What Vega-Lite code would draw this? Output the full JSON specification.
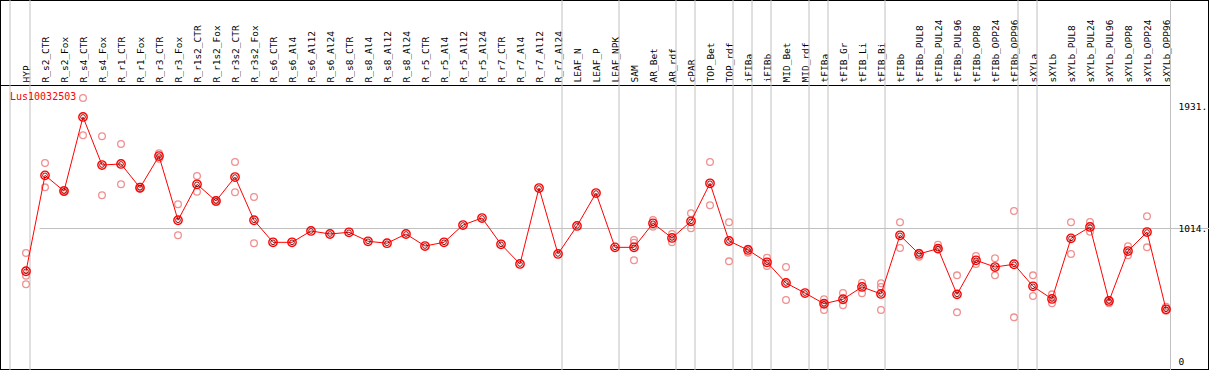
{
  "$schema": "https://vega.github.io/schema/vega-lite/v6.json",
  "width": 1209,
  "height": 370,
  "autosize": "none",
  "padding": 0,
  "background": "white",
  "config": {
    "view": {"stroke": "black", "strokeWidth": 2},
    "font": "DejaVu Sans Mono"
  },
  "datasets": {
    "main": [
      {"sample": "HYP", "gene": "Lus10032503", "value": 687},
      {"sample": "R_s2_CTR", "gene": "Lus10032503", "value": 1413},
      {"sample": "R_s2_Fox", "gene": "Lus10032503", "value": 1294},
      {"sample": "R_s4_CTR", "gene": "Lus10032503", "value": 1855},
      {"sample": "R_s4_Fox", "gene": "Lus10032503", "value": 1491},
      {"sample": "R_r1_CTR", "gene": "Lus10032503", "value": 1499},
      {"sample": "R_r1_Fox", "gene": "Lus10032503", "value": 1319},
      {"sample": "R_r3_CTR", "gene": "Lus10032503", "value": 1559},
      {"sample": "R_r3_Fox", "gene": "Lus10032503", "value": 1073},
      {"sample": "R_r1s2_CTR", "gene": "Lus10032503", "value": 1345},
      {"sample": "R_r1s2_Fox", "gene": "Lus10032503", "value": 1219},
      {"sample": "R_r3s2_CTR", "gene": "Lus10032503", "value": 1400},
      {"sample": "R_r3s2_Fox", "gene": "Lus10032503", "value": 1073},
      {"sample": "R_s6_CTR", "gene": "Lus10032503", "value": 906},
      {"sample": "R_s6_Al4", "gene": "Lus10032503", "value": 906},
      {"sample": "R_s6_Al12", "gene": "Lus10032503", "value": 992},
      {"sample": "R_s6_Al24", "gene": "Lus10032503", "value": 969},
      {"sample": "R_s8_CTR", "gene": "Lus10032503", "value": 982},
      {"sample": "R_s8_Al4", "gene": "Lus10032503", "value": 914},
      {"sample": "R_s8_Al12", "gene": "Lus10032503", "value": 899},
      {"sample": "R_s8_Al24", "gene": "Lus10032503", "value": 969},
      {"sample": "R_r5_CTR", "gene": "Lus10032503", "value": 878},
      {"sample": "R_r5_Al4", "gene": "Lus10032503", "value": 906},
      {"sample": "R_r5_Al12", "gene": "Lus10032503", "value": 1037},
      {"sample": "R_r5_Al24", "gene": "Lus10032503", "value": 1090},
      {"sample": "R_r7_CTR", "gene": "Lus10032503", "value": 891},
      {"sample": "R_r7_Al4", "gene": "Lus10032503", "value": 742},
      {"sample": "R_r7_Al12", "gene": "Lus10032503", "value": 1317},
      {"sample": "R_r7_Al24", "gene": "Lus10032503", "value": 818},
      {"sample": "LEAF_N", "gene": "Lus10032503", "value": 1030},
      {"sample": "LEAF_P", "gene": "Lus10032503", "value": 1279},
      {"sample": "LEAF_NPK", "gene": "Lus10032503", "value": 868},
      {"sample": "SAM", "gene": "Lus10032503", "value": 868},
      {"sample": "AR_Bet", "gene": "Lus10032503", "value": 1050},
      {"sample": "AR_rdf", "gene": "Lus10032503", "value": 939},
      {"sample": "cPAR", "gene": "Lus10032503", "value": 1065},
      {"sample": "TOP_Bet", "gene": "Lus10032503", "value": 1353},
      {"sample": "TOP_rdf", "gene": "Lus10032503", "value": 916},
      {"sample": "iFIBa", "gene": "Lus10032503", "value": 848},
      {"sample": "iFIBb", "gene": "Lus10032503", "value": 755},
      {"sample": "MID_Bet", "gene": "Lus10032503", "value": 598},
      {"sample": "MID_rdf", "gene": "Lus10032503", "value": 522},
      {"sample": "tFIBa", "gene": "Lus10032503", "value": 441},
      {"sample": "tFIB_Gr", "gene": "Lus10032503", "value": 475},
      {"sample": "tFIB_Li", "gene": "Lus10032503", "value": 568},
      {"sample": "tFIB_Bi", "gene": "Lus10032503", "value": 515},
      {"sample": "tFIBb", "gene": "Lus10032503", "value": 959},
      {"sample": "tFIBb_PUL8", "gene": "Lus10032503", "value": 818},
      {"sample": "tFIBb_PUL24", "gene": "Lus10032503", "value": 858},
      {"sample": "tFIBb_PUL96", "gene": "Lus10032503", "value": 512},
      {"sample": "tFIBb_OPP8", "gene": "Lus10032503", "value": 770},
      {"sample": "tFIBb_OPP24", "gene": "Lus10032503", "value": 719},
      {"sample": "tFIBb_OPP96", "gene": "Lus10032503", "value": 740},
      {"sample": "sXYLa", "gene": "Lus10032503", "value": 573},
      {"sample": "sXYLb", "gene": "Lus10032503", "value": 477},
      {"sample": "sXYLb_PUL8", "gene": "Lus10032503", "value": 936},
      {"sample": "sXYLb_PUL24", "gene": "Lus10032503", "value": 1022},
      {"sample": "sXYLb_PUL96", "gene": "Lus10032503", "value": 462},
      {"sample": "sXYLb_OPP8", "gene": "Lus10032503", "value": 840},
      {"sample": "sXYLb_OPP24", "gene": "Lus10032503", "value": 984},
      {"sample": "sXYLb_OPP96", "gene": "Lus10032503", "value": 399}
    ],
    "reps": [
      {"sample": "HYP", "value": 825}, {"sample": "HYP", "value": 653}, {"sample": "HYP", "value": 588},
      {"sample": "R_s2_CTR", "value": 1506}, {"sample": "R_s2_CTR", "value": 1322},
      {"sample": "R_s2_Fox", "value": 1302}, {"sample": "R_s2_Fox", "value": 1287},
      {"sample": "R_s4_CTR", "value": 1998}, {"sample": "R_s4_CTR", "value": 1716},
      {"sample": "R_s4_Fox", "value": 1709}, {"sample": "R_s4_Fox", "value": 1262},
      {"sample": "R_r1_CTR", "value": 1650}, {"sample": "R_r1_CTR", "value": 1345},
      {"sample": "R_r1_Fox", "value": 1327}, {"sample": "R_r1_Fox", "value": 1312},
      {"sample": "R_r3_CTR", "value": 1580}, {"sample": "R_r3_CTR", "value": 1539},
      {"sample": "R_r3_Fox", "value": 1194}, {"sample": "R_r3_Fox", "value": 959},
      {"sample": "R_r1s2_CTR", "value": 1408}, {"sample": "R_r1s2_CTR", "value": 1289},
      {"sample": "R_r1s2_Fox", "value": 1226}, {"sample": "R_r1s2_Fox", "value": 1211},
      {"sample": "R_r3s2_CTR", "value": 1514}, {"sample": "R_r3s2_CTR", "value": 1285},
      {"sample": "R_r3s2_Fox", "value": 1249}, {"sample": "R_r3s2_Fox", "value": 899},
      {"sample": "SAM", "value": 924}, {"sample": "SAM", "value": 903}, {"sample": "SAM", "value": 770},
      {"sample": "AR_Bet", "value": 1075}, {"sample": "AR_Bet", "value": 1024},
      {"sample": "AR_rdf", "value": 969}, {"sample": "AR_rdf", "value": 906},
      {"sample": "cPAR", "value": 1126}, {"sample": "cPAR", "value": 1012},
      {"sample": "TOP_Bet", "value": 1514}, {"sample": "TOP_Bet", "value": 1186},
      {"sample": "TOP_rdf", "value": 1058}, {"sample": "TOP_rdf", "value": 762},
      {"sample": "iFIBa", "value": 858}, {"sample": "iFIBa", "value": 827},
      {"sample": "iFIBb", "value": 790}, {"sample": "iFIBb", "value": 727},
      {"sample": "MID_Bet", "value": 719}, {"sample": "MID_Bet", "value": 469},
      {"sample": "tFIBa", "value": 475}, {"sample": "tFIBa", "value": 441}, {"sample": "tFIBa", "value": 394},
      {"sample": "tFIB_Gr", "value": 522}, {"sample": "tFIB_Gr", "value": 429},
      {"sample": "tFIB_Li", "value": 600}, {"sample": "tFIB_Li", "value": 520},
      {"sample": "tFIB_Bi", "value": 596}, {"sample": "tFIB_Bi", "value": 568}, {"sample": "tFIB_Bi", "value": 394},
      {"sample": "tFIBb", "value": 1058}, {"sample": "tFIBb", "value": 863},
      {"sample": "tFIBb_PUL8", "value": 827}, {"sample": "tFIBb_PUL8", "value": 797},
      {"sample": "tFIBb_PUL24", "value": 888}, {"sample": "tFIBb_PUL24", "value": 853},
      {"sample": "tFIBb_PUL96", "value": 656}, {"sample": "tFIBb_PUL96", "value": 376},
      {"sample": "tFIBb_OPP8", "value": 802}, {"sample": "tFIBb_OPP8", "value": 742},
      {"sample": "tFIBb_OPP24", "value": 785}, {"sample": "tFIBb_OPP24", "value": 656},
      {"sample": "tFIBb_OPP96", "value": 1143}, {"sample": "tFIBb_OPP96", "value": 338},
      {"sample": "sXYLa", "value": 656}, {"sample": "sXYLa", "value": 500},
      {"sample": "sXYLb", "value": 512}, {"sample": "sXYLb", "value": 444},
      {"sample": "sXYLb_PUL8", "value": 1058}, {"sample": "sXYLb_PUL8", "value": 818},
      {"sample": "sXYLb_PUL24", "value": 1060}, {"sample": "sXYLb_PUL24", "value": 986},
      {"sample": "sXYLb_PUL96", "value": 469}, {"sample": "sXYLb_PUL96", "value": 444},
      {"sample": "sXYLb_OPP8", "value": 876}, {"sample": "sXYLb_OPP8", "value": 808},
      {"sample": "sXYLb_OPP24", "value": 1103}, {"sample": "sXYLb_OPP24", "value": 868},
      {"sample": "sXYLb_OPP96", "value": 419}, {"sample": "sXYLb_OPP96", "value": 388}
    ],
    "groupEnds": [
      {"sample": "HYP"}, {"sample": "R_r7_Al24"}, {"sample": "LEAF_NPK"}, {"sample": "AR_rdf"},
      {"sample": "cPAR"}, {"sample": "TOP_rdf"}, {"sample": "iFIBa"}, {"sample": "iFIBb"},
      {"sample": "MID_rdf"}, {"sample": "tFIBa"}, {"sample": "tFIB_Bi"}, {"sample": "tFIBb_OPP96"},
      {"sample": "sXYLa"}
    ],
    "groupStarts": [
      {"sample": "HYP"}
    ]
  },
  "encoding": {
    "x": {
      "field": "sample",
      "type": "nominal",
      "scale": {
        "type": "point",
        "domain": ["HYP", "R_s2_CTR", "R_s2_Fox", "R_s4_CTR", "R_s4_Fox", "R_r1_CTR", "R_r1_Fox", "R_r3_CTR", "R_r3_Fox", "R_r1s2_CTR", "R_r1s2_Fox", "R_r3s2_CTR", "R_r3s2_Fox", "R_s6_CTR", "R_s6_Al4", "R_s6_Al12", "R_s6_Al24", "R_s8_CTR", "R_s8_Al4", "R_s8_Al12", "R_s8_Al24", "R_r5_CTR", "R_r5_Al4", "R_r5_Al12", "R_r5_Al24", "R_r7_CTR", "R_r7_Al4", "R_r7_Al12", "R_r7_Al24", "LEAF_N", "LEAF_P", "LEAF_NPK", "SAM", "AR_Bet", "AR_rdf", "cPAR", "TOP_Bet", "TOP_rdf", "iFIBa", "iFIBb", "MID_Bet", "MID_rdf", "tFIBa", "tFIB_Gr", "tFIB_Li", "tFIB_Bi", "tFIBb", "tFIBb_PUL8", "tFIBb_PUL24", "tFIBb_PUL96", "tFIBb_OPP8", "tFIBb_OPP24", "tFIBb_OPP96", "sXYLa", "sXYLb", "sXYLb_PUL8", "sXYLb_PUL24", "sXYLb_PUL96", "sXYLb_OPP8", "sXYLb_OPP24", "sXYLb_OPP96"],
        "range": [0, 1170],
        "padding": 0.7895,
        "align": 0.8667
      },
      "axis": {
        "orient": "top",
        "offset": -85,
        "title": null,
        "ticks": false,
        "grid": false,
        "labelAngle": -90,
        "labelPadding": 3,
        "labelFont": "DejaVu Sans Mono",
        "labelFontSize": 9.5,
        "labelColor": "black",
        "labelOverlap": false,
        "labelBound": false,
        "labelFlush": false,
        "domainColor": "black",
        "domainWidth": 1
      }
    }
  },
  "layer": [
    {
      "data": {"name": "groupStarts"},
      "mark": {"type": "rule", "color": "#c0c0c0", "strokeWidth": 1, "xOffset": -16},
      "encoding": {}
    },
    {
      "data": {"name": "groupEnds"},
      "mark": {"type": "rule", "color": "#c0c0c0", "strokeWidth": 1, "xOffset": 4},
      "encoding": {}
    },
    {
      "data": {"name": "reps"},
      "mark": {"type": "point", "shape": "circle", "filled": false, "color": "#f09090", "strokeWidth": 1.3, "size": 45, "opacity": 1},
      "encoding": {
        "y": {"field": "value", "type": "quantitative"}
      }
    },
    {
      "data": {"name": "main"},
      "mark": {"type": "line", "strokeWidth": 1},
      "encoding": {
        "y": {
          "field": "value",
          "type": "quantitative",
          "scale": {"domain": [-60.56, 2740.3], "nice": false, "zero": false},
          "axis": {
            "orient": "right",
            "offset": -39,
            "title": null,
            "values": [0, 1014, 1931],
            "labelExpr": "datum.value === 0 ? '0' : datum.value + '.'",
            "labelFont": "DejaVu Sans Mono",
            "labelFontSize": 9.5,
            "labelColor": "black",
            "labelAlign": "left",
            "labelBaseline": "middle",
            "labelPadding": 2,
            "labelFlush": false,
            "labelOverlap": false,
            "domainColor": "#c0c0c0",
            "domainWidth": 1,
            "tickSize": 6,
            "tickColor": "#c0c0c0",
            "tickOpacity": {"condition": {"test": "datum.value === 1014", "value": 1}, "value": 0},
            "grid": true,
            "gridColor": "#c0c0c0",
            "gridOpacity": {"condition": {"test": "datum.value === 1014", "value": 1}, "value": 0}
          }
        },
        "color": {
          "field": "gene",
          "type": "nominal",
          "scale": {"range": ["#ff0000"]},
          "legend": {
            "orient": "none",
            "legendX": 0,
            "legendY": 92,
            "title": null,
            "symbolSize": 0,
            "symbolOpacity": 0,
            "symbolStrokeWidth": 0,
            "labelOffset": 0,
            "labelFont": "DejaVu Sans Mono",
            "labelFontSize": 10,
            "labelColor": "#ff0000",
            "padding": 0
          }
        },
        "order": {"value": null}
      }
    },
    {
      "data": {"name": "main"},
      "mark": {"type": "point", "shape": "circle", "filled": false, "color": "#ff0000", "strokeWidth": 1.4, "size": 70, "opacity": 1},
      "encoding": {
        "y": {"field": "value", "type": "quantitative"}
      }
    },
    {
      "data": {"name": "main"},
      "mark": {"type": "point", "shape": "circle", "filled": false, "color": "#700000", "strokeWidth": 0.9, "size": 22, "opacity": 1},
      "encoding": {
        "y": {"field": "value", "type": "quantitative"}
      }
    }
  ]
}
